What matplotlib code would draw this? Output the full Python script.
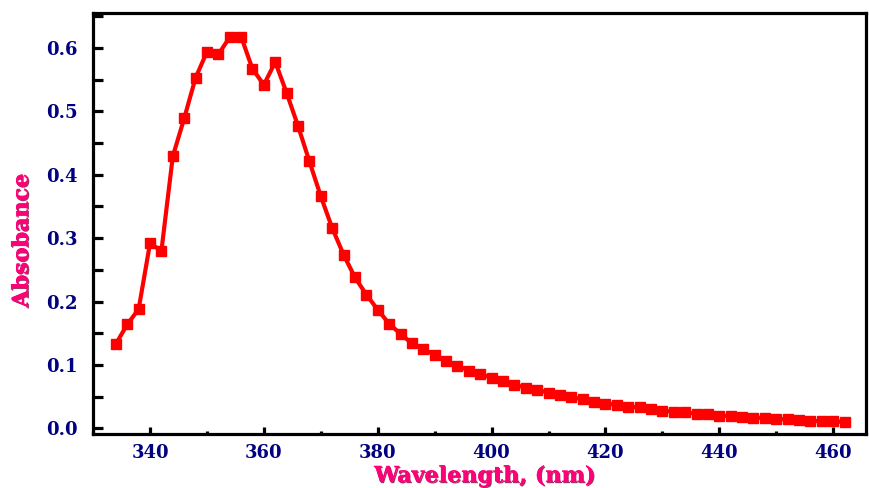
import matplotlib
matplotlib.use("Agg")
from matplotlib import pyplot as plt
from matplotlib.ticker import MultipleLocator
import matplotlib.patheffects as pe
import numpy as np

wavelength = np.arange(334, 464, 2)
absorbance = [0.133, 0.164, 0.188, 0.292, 0.280, 0.429, 0.489, 0.553, 0.594, 0.590,
              0.617, 0.618, 0.567, 0.542, 0.578, 0.529, 0.477, 0.421, 0.366, 0.316,
              0.274, 0.238, 0.211, 0.187, 0.165, 0.149, 0.134, 0.125, 0.116, 0.106,
              0.099, 0.091, 0.085, 0.080, 0.074, 0.069, 0.064, 0.061, 0.056, 0.052,
              0.049, 0.046, 0.042, 0.039, 0.037, 0.034, 0.033, 0.031, 0.028, 0.026,
              0.025, 0.023, 0.022, 0.020, 0.019, 0.018, 0.017, 0.016, 0.015, 0.014,
              0.013, 0.012, 0.011, 0.011, 0.010]

plt.rcParams['font.family'] = ['DejaVu Serif']

fig = plt.figure(figsize=(8.7, 4.88), dpi=100)
ax = fig.add_axes([0.107, 0.111, 0.888, 0.862])

ax.plot(wavelength, absorbance, color='#ff0000', linewidth=3, marker='s',
        markersize=7, markeredgecolor='#ff0000')

ax.set_xlim(330, 465.7)
ax.set_ylim(-0.0087, 0.655)
ax.xaxis.set_major_locator(MultipleLocator(20))
ax.xaxis.set_minor_locator(MultipleLocator(10))
ax.yaxis.set_major_locator(MultipleLocator(0.1))
ax.yaxis.set_minor_locator(MultipleLocator(0.05))
ax.yaxis.set_major_formatter(plt.FormatStrFormatter('%.1f'))

for s in ax.spines.values():
    s.set_linewidth(2.3)
ax.tick_params(which='major', direction='in', width=2.3,
               labelsize=13, labelcolor='#000080')
ax.tick_params(axis='y', which='both', direction='in', length=7.5, width=2.3, pad=11)
ax.tick_params(axis='x', which='major', length=5, pad=7)
ax.tick_params(axis='x', which='minor', direction='in', length=2.5, width=2.3)
for lab in ax.get_xticklabels() + ax.get_yticklabels():
    lab.set_fontweight('bold')

shadow = [pe.withSimplePatchShadow(offset=(0.8, -0.8), shadow_rgbFace='#8a0040', alpha=0.8),
          pe.Normal()]
ax.set_xlabel('Wavelength, (nm)', fontsize=16, fontweight='bold',
              color='#ff0078', path_effects=shadow)
ax.set_ylabel('Absobance', fontsize=16, fontweight='bold',
              color='#ff0078', path_effects=shadow)
ax.xaxis.set_label_coords(0.507, -0.074)
ax.yaxis.set_label_coords(-0.078, 0.46)

fig.savefig('out.png', dpi=100)
